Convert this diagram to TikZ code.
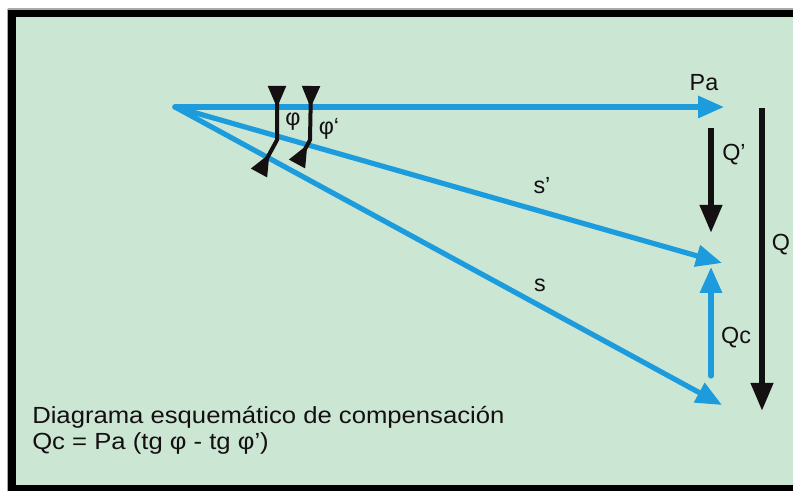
\documentclass[tikz,border=0pt]{standalone}
\usepackage{fontspec}
\setmainfont{Liberation Sans}
\newfontfamily\capfont[FakeStretch=1.1]{Liberation Sans}
\usetikzlibrary{arrows.meta}
\definecolor{bgreen}{RGB}{204,230,212}
\definecolor{vblue}{RGB}{28,156,220}
\definecolor{vblack}{RGB}{20,16,18}
\definecolor{framegray}{RGB}{170,170,170}
\tikzset{
  bluevec/.style={draw=vblue, line width=3.9pt, line cap=round,
    -{Triangle[length=19.5pt,width=16pt]}},
  blackvec/.style={draw=vblack, line width=4.5pt,
    -{Triangle[length=21pt,width=16pt]}},
  anglemark/.style={draw=vblack, line width=3pt, line join=round,
    {Triangle[reversed,length=16.5pt,width=13pt]}-{Triangle[reversed,length=16.5pt,width=13pt]}},
  lbl/.style={font=\fontsize{17.5pt}{20pt}\selectfont, text=vblack, inner sep=0pt},
  captext/.style={font=\capfont\fontsize{17.5pt}{20pt}\selectfont, text=vblack, inner sep=0pt, anchor=base west}
}
\begin{document}
\begin{tikzpicture}[x=0.75pt,y=-0.75pt]
\useasboundingbox (0,0) rectangle (793,491);
% frame
\fill[white] (0,0) rectangle (793,491);
\draw[framegray, line width=0.8pt] (8,9) -- (793,9);
\draw[framegray, line width=0.8pt] (8,9) -- (8,491);
\fill[black] (8,10) rectangle (793,491);
\fill[bgreen] (16,17) rectangle (793,485);
% points
\coordinate (O) at (175,107);
\coordinate (Pa) at (724,107);
\coordinate (Sp) at (722,263);
\coordinate (S) at (722,405);
\coordinate (Qpa) at (711,128);
\coordinate (Qpb) at (711,233);
\coordinate (Qca) at (711,376);
\coordinate (Qcb) at (711,267);
\coordinate (Qa) at (762,108);
\coordinate (Qb) at (762,411);
% vectors
\draw[bluevec] (O) -- (Pa);
\draw[bluevec] (O) -- (Sp);
\draw[bluevec] (O) -- (S);
\draw[bluevec] (Qca) -- (Qcb);
\draw[blackvec] (Qpa) -- (Qpb);
\draw[blackvec] (Qa) -- (Qb);
% angle markers
\coordinate (m1a) at (277,86);
\coordinate (m1b) at (277,140);
\coordinate (m1c) at (259,173);
\coordinate (m2a) at (311,86);
\coordinate (m2b) at (310,140);
\coordinate (m2c) at (297,164);
\draw[anglemark] (m1a) -- (m1b) -- (m1c);
\draw[anglemark] (m2a) -- (m2b) -- (m2c);
% labels
\node[lbl] (lphi) at (293,122) {φ};
\node[lbl] (lphip) at (329,129) {φ‘};
\node[lbl] (lPa) at (704,83) {Pa};
\node[lbl] (lQp) at (734,155) {Q’};
\node[lbl] (lQ) at (781,245) {Q};
\node[lbl] (lQc) at (736,338) {Qc};
\node[lbl] (lsp) at (542,186) {s’};
\node[lbl] (ls) at (540,285) {s};
% caption
\node[captext] (cap1) at (32,424) {Diagrama esquemático de compensación};
\node[captext] (cap2) at (32,450) {Qc = Pa (tg φ - tg φ’)};
\end{tikzpicture}
\end{document}
